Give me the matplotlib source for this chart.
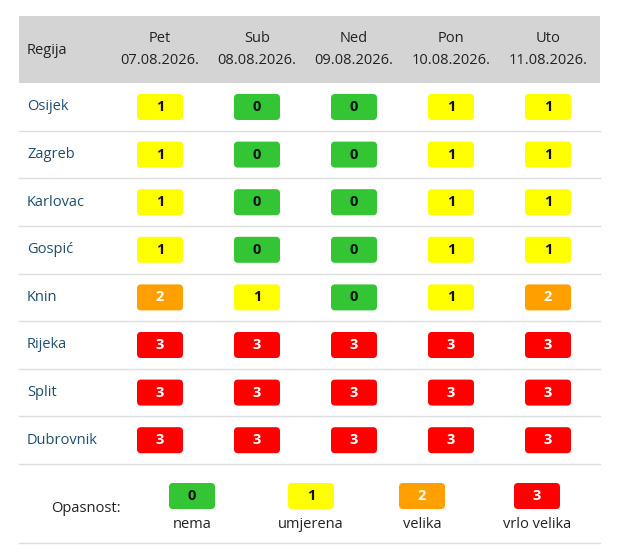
import matplotlib.pyplot as plt
from matplotlib.patches import FancyBboxPatch, Rectangle

regions = ['Osijek', 'Zagreb', 'Karlovac', 'Gospić', 'Knin', 'Rijeka', 'Split', 'Dubrovnik']
days = ['Pet', 'Sub', 'Ned', 'Pon', 'Uto']
dates = ['07.08.2026.', '08.08.2026.', '09.08.2026.', '10.08.2026.', '11.08.2026.']
levels = [
    [1, 0, 0, 1, 1],
    [1, 0, 0, 1, 1],
    [1, 0, 0, 1, 1],
    [1, 0, 0, 1, 1],
    [2, 1, 0, 1, 2],
    [3, 3, 3, 3, 3],
    [3, 3, 3, 3, 3],
    [3, 3, 3, 3, 3],
]
legend_labels = ['nema', 'umjerena', 'velika', 'vrlo velika']

colors = ['#33c533', '#ffff00', '#ffa000', '#ff0000']
txt_colors = ['#111111', '#111111', 'white', 'white']

plt.rcParams['font.family'] = ['Open Sans', 'DejaVu Sans']
fig = plt.figure(figsize=(6.22, 5.57), dpi=100)
ax = fig.add_axes([0, 0, 1, 1])
ax.set_xlim(0, 622)
ax.set_ylim(557, 0)
ax.axis('off')

col_x = [160, 257, 354, 451, 548]
row_y0, row_h = 107, 47.6
fs = 10.5

def badge(cx, cy, lvl):
    w, h = 46, 26
    ax.add_patch(FancyBboxPatch((cx - w / 2, cy - h / 2), w, h,
                                boxstyle='round,pad=0,rounding_size=4',
                                fc=colors[lvl], ec='none'))
    ax.text(cx, cy, str(lvl), ha='center', va='center', fontsize=10.5,
            fontweight='bold', color=txt_colors[lvl])

# header
ax.add_patch(Rectangle((19, 16), 581, 67, fc='#d4d4d4', ec='none'))
ax.text(27, 50, 'Regija', ha='left', va='center', fontsize=fs, color='#222222')
for x, d, dt in zip(col_x, days, dates):
    ax.text(x, 39, d, ha='center', va='center', fontsize=fs, color='#222222')
    ax.text(x, 61, dt, ha='center', va='center', fontsize=fs, color='#222222')

# rows
for i, (reg, row) in enumerate(zip(regions, levels)):
    y = row_y0 + i * row_h
    ax.text(27, y, reg, ha='left', va='center', fontsize=fs, color='#1f4e6e')
    for x, lvl in zip(col_x, row):
        badge(x, y, lvl)
    ax.plot([19, 600], [y + row_h / 2, y + row_h / 2], color='#dddddd', lw=1)

# legend
leg_x = [192, 311, 422, 537]
ax.text(86, 508, 'Opasnost:', ha='center', va='center', fontsize=fs, color='#222222')
for k, (x, lab) in enumerate(zip(leg_x, legend_labels)):
    badge(x, 496, k)
    ax.text(x, 524, lab, ha='center', va='center', fontsize=fs, color='#222222')
ax.plot([19, 600], [543, 543], color='#dddddd', lw=1)

fig.savefig('out.png', dpi=100, facecolor='white')
